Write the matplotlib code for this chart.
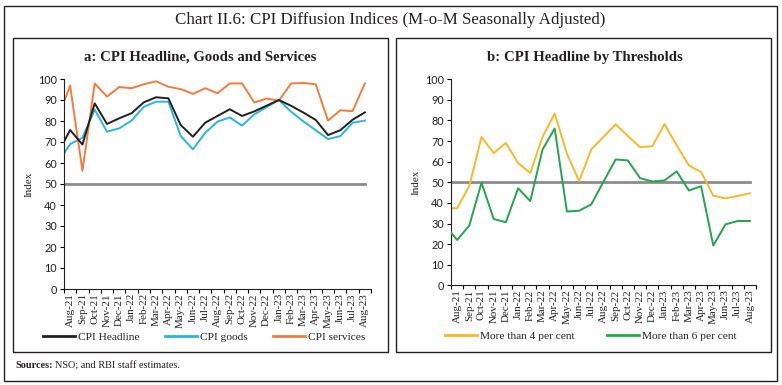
import matplotlib
matplotlib.use("Agg")
import matplotlib.pyplot as plt
from matplotlib.patches import Rectangle
import numpy as np

# Months (first one, Jul-21, lies just left of the visible axis range)
months = ["Jul-21", "Aug-21", "Sep-21", "Oct-21", "Nov-21", "Dec-21", "Jan-22", "Feb-22",
          "Mar-22", "Apr-22", "May-22", "Jun-22", "Jul-22", "Aug-22", "Sep-22",
          "Oct-22", "Nov-22", "Dec-22", "Jan-23", "Feb-23", "Mar-23", "Apr-23",
          "May-23", "Jun-23", "Jul-23", "Aug-23"]

cpi_headline = [64.7, 75.7, 68.8, 88.4, 78.6, 81.3, 83.7, 88.9, 91.3, 90.8, 78.1, 72.5,
                79.2, 82.4, 85.6, 82.4, 84.6, 87.3, 90.0, 87.2, 84.0, 80.5, 73.3,
                75.6, 80.6, 84.1]
cpi_goods = [60.2, 69.0, 72.0, 85.4, 74.9, 76.5, 80.2, 86.8, 89.2, 89.2, 72.9, 66.5,
             74.4, 79.7, 81.7, 77.8, 83.2, 86.6, 90.0, 84.4, 79.8, 75.6, 71.4,
             72.8, 79.2, 80.2]
cpi_services = [81.6, 96.8, 56.3, 97.9, 91.6, 96.2, 95.6, 97.5, 98.9, 96.3, 95.2, 92.9,
                95.6, 93.2, 97.9, 97.9, 88.8, 90.7, 89.7, 97.9, 98.1, 97.5, 80.2,
                85.1, 84.7, 97.9]

more_than_4 = [37.4, 37.4, 48.2, 72.0, 64.2, 69.1, 59.3, 54.5, 72.0, 83.4, 63.9, 50.6,
               66.0, 72.0, 78.2, 72.4, 67.1, 67.5, 78.2, 68.0, 58.2, 55.0, 43.5,
               42.2, 43.4, 44.7]
more_than_6 = [29.2, 22.0, 29.0, 49.8, 32.2, 30.6, 47.1, 40.9, 65.9, 76.1, 35.8, 36.2,
               39.3, 50.3, 61.1, 60.6, 52.0, 50.4, 50.9, 55.3, 46.0, 48.1, 19.3,
               29.6, 31.2, 31.2]
threshold = [50] * len(months)

W, H = 782, 385
fig = plt.figure(figsize=(W / 100, H / 100), dpi=100)

SERIF = ["Liberation Serif", "DejaVu Serif"]
SANS = ["Lato", "DejaVu Sans"]


def fx(px):
    return px / W


def fy(py):
    return 1 - py / H


def box(x0, y0, x1, y1, lw=1.0):
    fig.patches.append(Rectangle((fx(x0), fy(y1)), fx(x1) - fx(x0), fy(y0) - fy(y1),
                                 transform=fig.transFigure, fill=False,
                                 edgecolor="#231f20", linewidth=lw))


box(4, 6, 777, 381, lw=1.0)
box(13, 38, 388, 352, lw=1.0)
box(396, 38, 771, 352, lw=1.0)

fig.text(fx(390), fy(20), "Chart II.6: CPI Diffusion Indices (M-o-M Seasonally Adjusted)",
         ha="center", va="center", fontsize=12.2, family=SERIF, color="#231f20")

x = np.arange(len(months))


def setup(ax, title, title_x):
    ax.set_xlim(0.5, len(months) - 0.5)
    ax.set_ylim(0, 100)
    ax.set_yticks(np.arange(0, 101, 10))
    ax.set_xticks(np.arange(0.5, len(months) - 0.4, 1), minor=False)
    ax.set_xticklabels([])
    ax.set_xticks(x[1:], minor=True)
    ax.set_xticklabels(months[1:], minor=True, rotation=90, fontsize=7.9,
                       family=SERIF, color="#231f20")
    ax.tick_params(axis="x", which="minor", length=0, pad=3)
    ax.tick_params(axis="x", which="major", length=3, direction="out", width=0.8)
    ax.tick_params(axis="y", length=3, direction="out", width=0.8, pad=2,
                   labelsize=7.8, labelcolor="#231f20")
    for lab in ax.get_yticklabels():
        lab.set_family(SANS)
    for s in ["top", "right"]:
        ax.spines[s].set_visible(False)
    for s in ["left", "bottom"]:
        ax.spines[s].set_color("#231f20")
        ax.spines[s].set_linewidth(0.8)
    ax.set_ylabel("Index", family=SERIF, fontsize=8, color="#231f20", labelpad=3)
    fig.text(fx(title_x), fy(57), title, ha="center", va="center", fontsize=10.6,
             fontweight="bold", family=SERIF, color="#231f20")


# Panel a
axa = fig.add_axes([fx(64), fy(289), fx(371) - fx(64), fy(79) - fy(289)])
axa.plot(x, threshold, color="#8c8c8c", lw=2.0, clip_on=True, zorder=1)
axa.plot(x, cpi_headline, color="#231f20", lw=1.4, label="CPI Headline", zorder=3)
axa.plot(x, cpi_goods, color="#27b4e6", lw=1.4, label="CPI goods", zorder=2)
axa.plot(x, cpi_services, color="#f47b3a", lw=1.4, label="CPI services", zorder=2)
setup(axa, "a: CPI Headline, Goods and Services", 200)
leg = axa.legend(loc="center", bbox_to_anchor=(fx(204), fy(337)),
                 bbox_transform=fig.transFigure, ncol=3, frameon=False,
                 handlelength=2.8, handletextpad=0.3, columnspacing=2.2,
                 prop={"family": SERIF, "size": 8.2})
for t in leg.get_texts():
    t.set_color("#231f20")
for h in leg.get_lines():
    h.set_linewidth(2.0)

# Panel b
axb = fig.add_axes([fx(451), fy(285.3), fx(756) - fx(451), fy(79.3) - fy(285.3)])
axb.plot(x, threshold, color="#8c8c8c", lw=2.0, zorder=1)
axb.plot(x, more_than_4, color="#fbb726", lw=1.4, label="More than 4 per cent", zorder=2)
axb.plot(x, more_than_6, color="#22a64b", lw=1.4, label="More than 6 per cent", zorder=3)
setup(axb, "b: CPI Headline by Thresholds", 585)
legb = axb.legend(loc="center", bbox_to_anchor=(fx(591), fy(336)),
                  bbox_transform=fig.transFigure, ncol=2, frameon=False,
                  handlelength=2.8, handletextpad=0.3, columnspacing=2.8,
                  prop={"family": SERIF, "size": 8.2})
for t in legb.get_texts():
    t.set_color("#231f20")
for h in legb.get_lines():
    h.set_linewidth(2.0)

# Sources note
t1 = fig.text(fx(15), fy(366), "Sources:", ha="left", va="center", fontsize=7.4,
              fontweight="bold", family=SERIF, color="#231f20")
fig.canvas.draw()
bb = t1.get_window_extent()
fig.text(bb.x1 / W + 2.5 / W, fy(366), "NSO; and RBI staff estimates.", ha="left",
         va="center", fontsize=7.4, family=SERIF, color="#231f20")

fig.savefig("out.png", dpi=100)
